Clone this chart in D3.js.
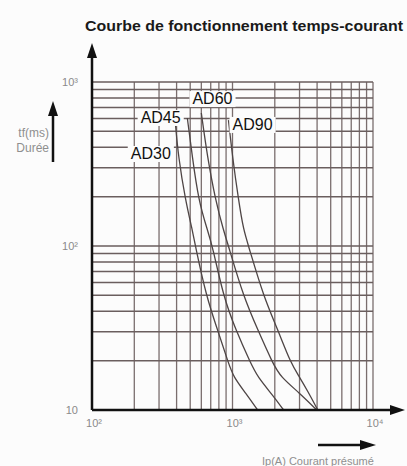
<!DOCTYPE html>
<html>
<head>
<meta charset="utf-8">
<script src="https://cdn.jsdelivr.net/npm/d3@7"></script>
<style>
  body { margin: 0; background: #fcfcfc; }
  svg { display: block; }
  .tick-label { fill: #8a8a8a; font-family: "Liberation Sans", Arial, sans-serif; font-size: 11px; }
  .side-label { fill: #8f8f8f; font-family: "Liberation Sans", Arial, sans-serif; font-size: 12px; }
  .curve-label { fill: #111; font-family: "Liberation Sans", Arial, sans-serif; font-size: 16px; }
</style>
</head>
<body>
<svg id="chart" width="407" height="466"></svg>
<script>
// courant (A) / temps (ms)
var ad30I = [392, 412, 462, 518, 544, 652, 781, 936, 1017, 1239, 1509];
var ad30T = [562, 349, 191, 125, 100, 49, 31, 19.3, 15.9, 12.7, 10];
var ad45I = [477, 518, 572, 663, 720, 862, 1051, 1345, 1509, 1931, 2314];
var ad45T = [603, 349, 191, 125, 100, 49, 31, 19.3, 15.9, 12.3, 10];
var ad60I = [600, 663, 756, 862, 936, 1198, 1509, 1931, 2203, 3000, 3981];
var ad60T = [647, 349, 191, 125, 100, 49, 31, 19.3, 15.9, 12.7, 10];
var ad90I = [936, 1000, 1104, 1198, 1301, 1665, 2097, 2596, 3000, 3434, 4047];
var ad90T = [586, 349, 191, 125, 100, 49, 31, 19.3, 15.9, 13.0, 10];

var seriesNames = ['AD30', 'AD45', 'AD60', 'AD90'];
// where each name sits (I, t)
var labelI = [262, 308, 720, 1389];
var labelT = [369, 612, 798, 555];

var xTicks = [100, 1000, 10000];
var xTickText = ['10²', '10³', '10⁴'];
var yTicks = [10, 100, 1000];
var yTickText = ['10', '10²', '10³'];

var svg = d3.select('#chart');
var margin = { top: 82, right: 34, bottom: 56, left: 92 },
    width = 407 - margin.left - margin.right,
    height = 466 - margin.top - margin.bottom;

var xScale = d3.scaleLog().domain([100, 10000]).range([0, width]);
var yScale = d3.scaleLog().domain([10, 1000]).range([height, 0]);

// title
svg.append('text')
    .attr('x', 85).attr('y', 31)
    .attr('textLength', 318).attr('lengthAdjust', 'spacingAndGlyphs')
    .style('font-family', '"Liberation Sans Narrow", "Liberation Sans", Arial, sans-serif')
    .style('font-weight', 'bold').style('font-size', '15px').style('fill', '#1a1a1a')
    .text('Courbe de fonctionnement temps-courant');

var g = svg.append('g').attr('transform', `translate(${margin.left},${margin.top})`);

// grid : 1..9 per decade
var gridX = [], gridY = [];
for (var e = 2; e <= 3; e++) for (var m = 1; m <= 9; m++) gridX.push(m * Math.pow(10, e));
gridX.push(10000);
for (var e = 1; e <= 2; e++) for (var m = 1; m <= 9; m++) gridY.push(m * Math.pow(10, e));
gridY.push(1000);

g.append('g').selectAll('line').data(gridX.slice(1)).enter().append('line')
    .attr('x1', d => xScale(d)).attr('x2', d => xScale(d))
    .attr('y1', 0).attr('y2', height)
    .attr('stroke', '#7a6e6e').attr('stroke-width', 1.3);
g.append('g').selectAll('line').data(gridY.slice(1)).enter().append('line')
    .attr('x1', 0).attr('x2', width)
    .attr('y1', d => yScale(d)).attr('y2', d => yScale(d))
    .attr('stroke', '#6a5e5e').attr('stroke-width', 1.5);

// curves
var allI = [ad30I, ad45I, ad60I, ad90I];
var allT = [ad30T, ad45T, ad60T, ad90T];
var line = d3.line()
    .x(d => xScale(d[0]))
    .y(d => yScale(d[1]))
    .curve(d3.curveBasis);

for (let i = 0; i < allI.length; i++) {
    var pts = allI[i].map((v, j) => [v, allT[i][j]]);
    g.append('path')
        .datum(pts)
        .attr('d', line)
        .attr('fill', 'none')
        .attr('stroke', '#4e4545')
        .attr('stroke-width', 1.3);
}

// labels with white box
for (let i = 0; i < seriesNames.length; i++) {
    var cx = xScale(labelI[i]), cy = yScale(labelT[i]);
    var t = g.append('text')
        .classed('curve-label', true)
        .attr('x', cx).attr('y', cy + 6)
        .attr('text-anchor', 'middle')
        .text(seriesNames[i]);
    var bb = t.node().getBBox();
    g.insert('rect', 'text')
        .attr('x', bb.x - 3).attr('y', bb.y + 1)
        .attr('width', bb.width + 6).attr('height', bb.height - 1)
        .attr('fill', '#fcfcfc');
}

// axes
g.append('line').attr('x1', 0).attr('x2', 0).attr('y1', height).attr('y2', -28)
    .attr('stroke', '#111').attr('stroke-width', 2.5);
g.append('path').attr('d', 'M0,-39 L-5,-24 L5,-24 Z').attr('fill', '#111');
g.append('line').attr('x1', 0).attr('x2', 302).attr('y1', height).attr('y2', height)
    .attr('stroke', '#111').attr('stroke-width', 2.5);
g.append('path').attr('d', `M313,${height} L298,${height - 5} L298,${height + 5} Z`).attr('fill', '#111');

// tick labels
g.selectAll('.xt').data(xTicks).enter().append('text')
    .classed('tick-label', true)
    .attr('x', d => xScale(d) + 2).attr('y', height + 17)
    .attr('text-anchor', 'middle')
    .text((d, i) => xTickText[i]);
g.selectAll('.yt').data(yTicks).enter().append('text')
    .classed('tick-label', true)
    .attr('x', -14).attr('y', d => yScale(d) + 4)
    .attr('text-anchor', 'end')
    .text((d, i) => yTickText[i]);

// side labels + arrows
svg.append('text').classed('side-label', true)
    .attr('x', 49).attr('y', 137).attr('text-anchor', 'end').text('tf(ms)');
svg.append('text').classed('side-label', true)
    .attr('x', 49).attr('y', 152).attr('text-anchor', 'end').text('Durée');
svg.append('line').attr('x1', 53).attr('x2', 53).attr('y1', 162).attr('y2', 112)
    .attr('stroke', '#111').attr('stroke-width', 2.5);
svg.append('path').attr('d', 'M53,101 L48,116 L58,116 Z').attr('fill', '#111');

svg.append('line').attr('x1', 318).attr('x2', 362).attr('y1', 445).attr('y2', 445)
    .attr('stroke', '#111').attr('stroke-width', 2.5);
svg.append('path').attr('d', 'M376,445 L360,440 L360,450 Z').attr('fill', '#111');
svg.append('text').classed('side-label', true).style('font-size', '11px')
    .attr('x', 262).attr('y', 465).text('Ip(A) Courant présumé');
</script>
</body>
</html>
